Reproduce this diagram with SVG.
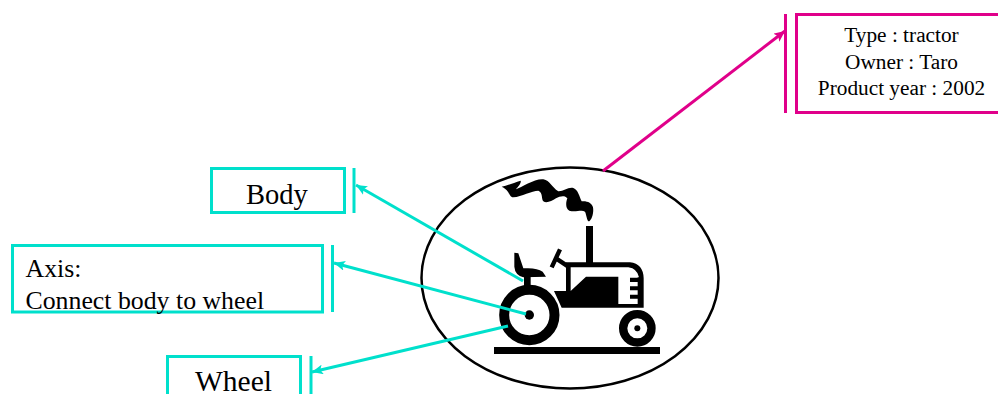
<svg xmlns="http://www.w3.org/2000/svg" width="998" height="394" viewBox="0 0 998 394">
<style>
.t{stroke:#00E0CC;stroke-width:3;fill:none}
.p{stroke:#E0008A;stroke-width:3;fill:none}
text{font-family:"Liberation Serif","Times New Roman",serif;fill:#000}
.c{text-anchor:middle}
.k{fill:#000}
</style>
<defs>
<marker id="at" markerUnits="userSpaceOnUse" markerWidth="12" markerHeight="10" refX="11" refY="5" orient="auto"><path d="M0,0L11,5L0,10L2.500,5Z" fill="#00E0CC"/></marker>
<marker id="ap" markerUnits="userSpaceOnUse" markerWidth="12" markerHeight="10" refX="11" refY="5" orient="auto"><path d="M0,0L11,5L0,10L2.500,5Z" fill="#E0008A"/></marker>
</defs>
<rect width="998" height="394" fill="#fff"/>
<g id="tractor">
<ellipse cx="570" cy="278" rx="148.500" ry="110.500" fill="#fff" stroke="#000" stroke-width="2.500"/>
<g transform="translate(480 160) scale(.33333)">
<path class="k" d="M65,80C80,78 100,68 122,62C125,70 112,82 108,88C125,82 165,55 190,58C210,62 215,82 235,94C250,95 265,80 280,84C295,90 298,110 305,124C320,122 336,128 339,142C342,160 335,178 328,184C320,184 320,165 315,155C305,148 285,158 268,152C255,145 258,125 262,115C255,105 240,108 228,115C215,125 198,130 190,124C183,115 190,100 175,92C155,92 125,110 100,112C85,112 92,92 65,80Z"/>
<rect class="k" x="318" y="198" width="21" height="112"/>
<path class="k" d="M258,307L450,307Q490,312 491,355L491,443L245,443L222,393L258,393Z"/>
<path d="M272,322L445,322Q472,326 477,352L473,352L473,432L415,432L415,350L318,350L272,393Z" fill="#fff"/>
<path class="k" d="M450,353H476V366H450ZM450,379H476V391H450ZM450,404H476V416H450Z"/>
<path class="k" d="M103,278L115,280L130,325Q170,322 188,335L198,350L130,352Q105,345 103,320Z"/>
<rect class="k" x="132" y="350" width="20" height="32"/>
<path d="M240,268L215,322M228,295L265,320" stroke="#000" stroke-width="13" fill="none"/>
<circle cx="148" cy="465" r="75.500" fill="#fff" stroke="#000" stroke-width="30"/>
<circle class="k" cx="148" cy="465" r="14"/>
<circle cx="472" cy="505" r="42.500" fill="#fff" stroke="#000" stroke-width="25"/>
<circle class="k" cx="472" cy="505" r="9"/>
<rect class="k" x="42" y="561" width="498" height="21"/>
</g>
</g>
<g id="connectors">
<line class="p" x1="603" y1="171" x2="785" y2="31" marker-end="url(#ap)"/>
<line class="t" x1="523" y1="281" x2="356" y2="185" marker-end="url(#at)"/>
<line class="t" x1="526" y1="314" x2="334" y2="263" marker-end="url(#at)"/>
<line class="t" x1="508" y1="326" x2="312" y2="372" marker-end="url(#at)"/>
</g>
<g id="body">
<rect class="t" x="211.500" y="168.500" width="133" height="44"/>
<path class="t" d="M354,168V213"/>
<text class="c" x="277" y="204" font-size="28.500">Body</text>
</g>
<g id="axis">
<rect class="t" x="12.500" y="245.500" width="310" height="66.500"/>
<path class="t" d="M332.500,245V312"/>
<text x="25.500" y="277" font-size="25.800">Axis:</text>
<text x="25.500" y="309" font-size="25.800">Connect body to wheel</text>
</g>
<g id="wheel">
<rect class="t" x="167.500" y="356.500" width="133" height="44"/>
<path class="t" d="M311,356V394"/>
<text class="c" x="233.500" y="391" font-size="29.500">Wheel</text>
</g>
<g id="info">
<rect class="p" x="796.500" y="14.500" width="210" height="98"/>
<path class="p" d="M785.500,14V113"/>
<text class="c" x="901.500" y="42" font-size="21.300">Type : tractor</text>
<text class="c" x="901.500" y="69" font-size="21.300">Owner : Taro</text>
<text class="c" x="901.500" y="95" font-size="21.300">Product year : 2002</text>
</g>
</svg>
